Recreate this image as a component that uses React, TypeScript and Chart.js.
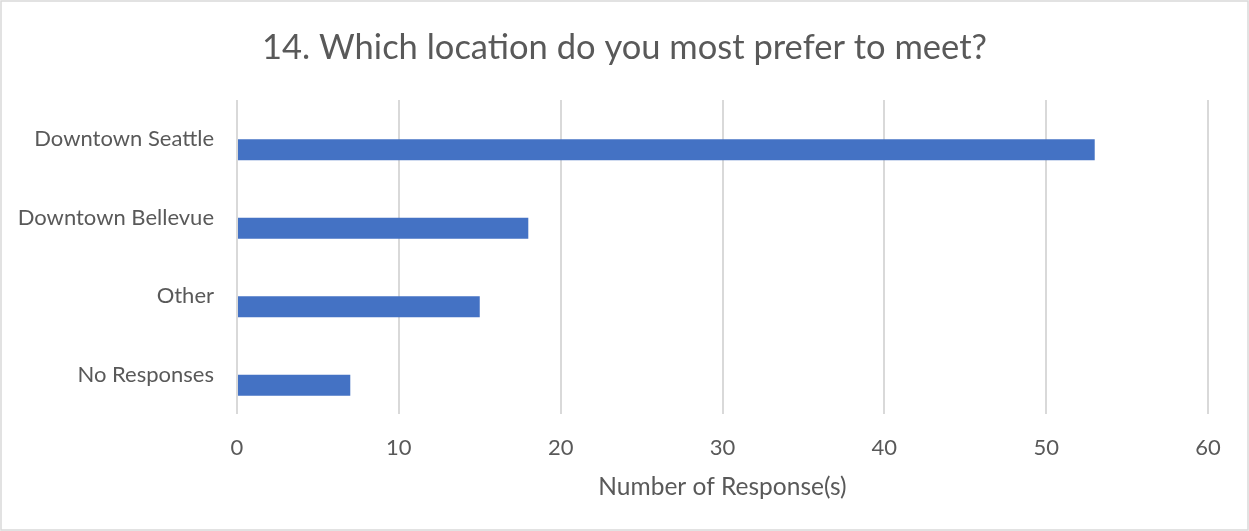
import React, { useEffect, useRef } from "react";
import { Chart, registerables } from "chart.js";

Chart.register(...registerables);

const chartTitle = "14. Which location do you most prefer to meet?";
const categories = ["Downtown Seattle", "Downtown Bellevue", "Other", "No Responses"];
const responses = [53, 18, 15, 7];
const emptySeries: (number | null)[] = [null, null, null, null];
const xMin = 0;
const xMax = 60;
const xStep = 10;

const TEXT = "#595959";
const FONT = "Lato";

const decorPlugin = {
  id: "decor",
  afterDraw(chart: any) {
    const ctx = chart.ctx;
    ctx.save();
    ctx.strokeStyle = "#d9d9d9";
    ctx.lineWidth = 1.5;
    ctx.strokeRect(1, 1, chart.width - 2, chart.height - 2);
    ctx.fillStyle = TEXT;
    ctx.font = `34.5px ${FONT}`;
    ctx.textAlign = "center";
    ctx.textBaseline = "middle";
    ctx.fillText(chartTitle, chart.width / 2, 48);
    ctx.restore();
  },
};

export default function App() {
  const ref = useRef<HTMLCanvasElement>(null);
  useEffect(() => {
    document.body.style.margin = "0";
    const chart = new Chart(ref.current!, {
      type: "bar",
      data: {
        labels: categories,
        datasets: [
          { label: "", data: emptySeries as any, backgroundColor: "#4472C4" },
          { label: "Number of Response(s)", data: responses, backgroundColor: "#4472C4" },
        ],
      },
      options: {
        indexAxis: "y",
        animation: false,
        responsive: false,
        devicePixelRatio: 1,
        layout: { padding: { left: 10, right: 41, top: 100, bottom: 29 } },
        datasets: { bar: { categoryPercentage: 0.535, barPercentage: 1 } } as any,
        plugins: {
          legend: { display: false },
          tooltip: { enabled: false },
          title: { display: false },
        },
        scales: {
          x: {
            min: xMin,
            max: xMax,
            ticks: { stepSize: xStep, color: TEXT, font: { family: FONT, size: 22 }, padding: 21 },
            grid: { color: "#d9d9d9", lineWidth: 2, drawTicks: false },
            border: { display: false },
            title: {
              display: true,
              text: "Number of Response(s)",
              color: TEXT,
              font: { family: FONT, size: 24.5 },
              padding: { top: 0, bottom: 0 },
            },
            afterFit: (s: any) => {
              s.height = 88;
            },
          },
          y: {
            grid: { display: false },
            border: { display: false },
            ticks: { color: TEXT, font: { family: FONT, size: 22 }, padding: 15 },
            afterFit: (s: any) => {
              s.width = 237 - 10;
            },
          },
        },
      },
      plugins: [decorPlugin],
    });
    return () => chart.destroy();
  }, []);
  return <canvas ref={ref} width={1249} height={531} style={{ display: "block" }} />;
}
